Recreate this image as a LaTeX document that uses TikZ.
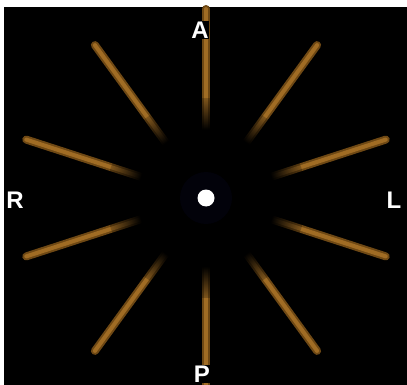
\documentclass[tikz,border=0pt]{standalone}
\usepackage{fontspec}
\setmainfont{Liberation Sans}
\usetikzlibrary{fadings,calc}
\definecolor{spokeouter}{RGB}{110,72,20}
\definecolor{spokeinner}{RGB}{160,108,36}
\definecolor{bgnavy}{RGB}{2,2,10}
\pgfdeclareradialshading{centerfadeshade}{\pgfpoint{0bp}{0bp}}{color(0bp)=(white); color(17bp)=(white); color(27bp)=(black); color(50bp)=(black)}
\pgfdeclarefading{centerfade}{\pgfuseshading{centerfadeshade}}
\tikzset{
  spokeA/.style={line width=8pt, draw=spokeouter, line cap=round},
  spokeB/.style={line width=4pt, draw=spokeinner, line cap=round},
  lbl/.style={text=white, font=\bfseries\fontsize{24}{24}\selectfont, inner sep=0.5pt, fill=black}
}
\begin{document}
\begin{tikzpicture}[x=1pt,y=-1pt]
\useasboundingbox (0,0) rectangle (407,385);
\fill[white] (0,0) rectangle (407,385);
\fill[black] (4,7) rectangle (407,385);
\coordinate (C) at (206,198);
\foreach \a in {90,54,18,-18,-54,-90,-126,-162,162,126} {
  \coordinate (i\a) at ($(C)+(\a:38)$);
  \coordinate (o\a) at ($(C)+(\a:189)$);
  \draw[spokeA] (i\a) -- (o\a);
  \draw[spokeB] (i\a) -- (o\a);
}
\fill[black, path fading=centerfade] (C) circle (100);
\fill[bgnavy] (C) circle (26);
\node[circle, fill=white, minimum size=17pt, inner sep=0pt] (dot) at (C) {};
\node[lbl] (A) at (200,30) {A};
\node[lbl] (P) at (202,374) {P};
\node[lbl] (R) at (15,200) {R};
\node[lbl] (L) at (394,200) {L};
\end{tikzpicture}
\end{document}
